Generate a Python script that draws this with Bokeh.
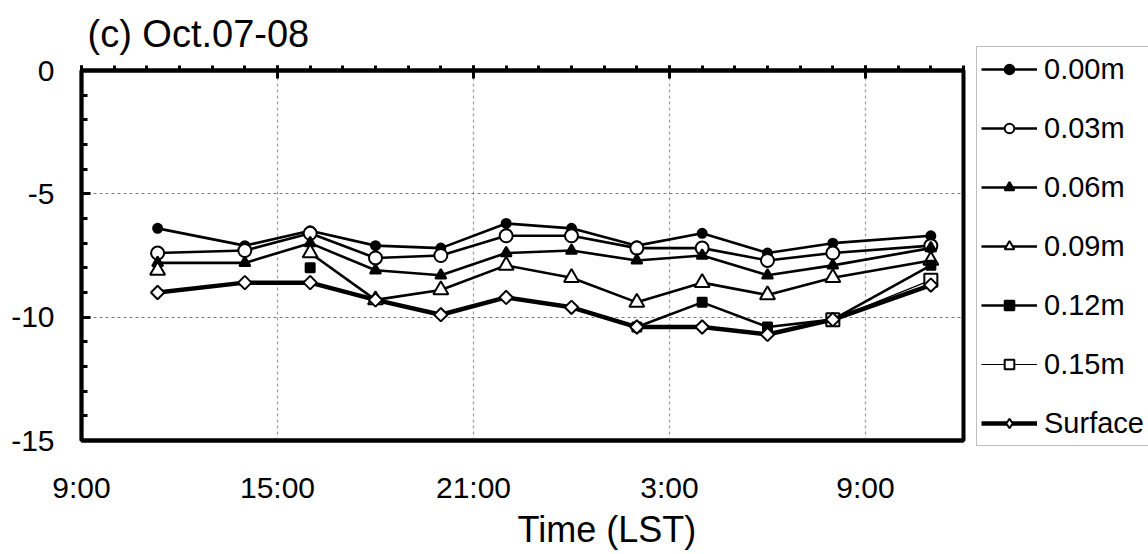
import math
from bokeh.plotting import figure
from bokeh.models import (LinearAxis, FixedTicker, Legend, LegendItem, Title,
                          Range1d, ColumnDataSource)
from bokeh.embed import file_html
from bokeh.resources import INLINE

nan = float("nan")

# time in hours counted from 0:00 of Oct.07 (24 -> 0:00 of Oct.08)
times = [11.33, 14, 16, 18, 20, 22, 24, 26, 28, 30, 32, 35]
d_000 = [-6.4, -7.1, -6.5, -7.1, -7.2, -6.2, -6.4, -7.1, -6.6, -7.4, -7.0, -6.7]
d_003 = [-7.4, -7.3, -6.6, -7.6, -7.5, -6.7, -6.7, -7.2, -7.2, -7.7, -7.4, -7.1]
d_006 = [-7.8, -7.8, -7.0, -8.1, -8.3, -7.4, -7.3, -7.7, -7.5, -8.3, -7.9, -7.2]
d_009 = [-8.1, nan, -7.4, -9.3, -8.9, -7.9, -8.4, -9.4, -8.6, -9.1, -8.4, -7.7]
d_012 = [nan, nan, -8.0, nan, nan, nan, nan, -10.4, -9.4, -10.4, -10.1, -7.9]
d_015 = [nan, nan, nan, nan, nan, nan, nan, nan, nan, nan, -10.1, -8.5]
surface = [-9.0, -8.6, -8.6, -9.3, -9.9, -9.2, -9.6, -10.4, -10.4, -10.7, -10.1, -8.7]

series_names = ["0.00m", "0.03m", "0.06m", "0.09m", "0.12m", "0.15m", "Surface"]

x_ticks = [9, 15, 21, 27, 33]
x_tick_labels = ["9:00", "15:00", "21:00", "3:00", "9:00"]
x_minor = list(range(9, 37))
y_ticks = [0, -5, -10, -15]
y_tick_labels = ["0", "-5", "-10", "-15"]
y_minor = list(range(-15, 1))

FONT = "Liberation Sans"

p = figure(frame_width=882, frame_height=370, output_backend="svg",
           toolbar_location=None,
           x_range=Range1d(9, 36), y_range=Range1d(-15, 0),
           min_border_left=81, min_border_right=185, min_border_top=70,
           min_border_bottom=114, background_fill_color="white",
           border_fill_color="white")
p.outline_line_color = "black"
p.outline_line_width = 4

p.title.text = "(c) Oct.07-08"
p.title.text_font = FONT
p.title.text_font_size = "38px"
p.title.text_font_style = "normal"
p.title.text_color = "black"
p.title.align = "left"
p.title.offset = 6
p.title.standoff = 21

# bottom axis: tick labels only
xa = p.xaxis[0]
xa.ticker = FixedTicker(ticks=x_ticks)
xa.major_label_overrides = {t: l for t, l in zip(x_ticks, x_tick_labels)}
xa.major_tick_in = 0
xa.major_tick_out = 0
xa.minor_tick_in = 0
xa.minor_tick_out = 0
xa.axis_line_width = 4
xa.major_label_standoff = 30
xa.major_label_text_font = FONT
xa.major_label_text_font_size = "30px"
xa.major_label_text_color = "black"

# x axis title, placed below the tick labels
xtitle = Title(text="Time (LST)", align="left", offset=436, standoff=0,
               text_font=FONT, text_font_size="36px", text_font_style="normal",
               text_color="black")
p.add_layout(xtitle, "below")

# top axis: ticks only
ta = LinearAxis(ticker=FixedTicker(ticks=x_ticks, minor_ticks=x_minor))
ta.major_label_overrides = {t: "" for t in x_ticks}
ta.major_label_text_font_size = "1px"
ta.axis_line_width = 4
ta.major_tick_in = 8
ta.major_tick_out = 5
ta.minor_tick_in = 0
ta.minor_tick_out = 5
ta.major_tick_line_width = 3
ta.minor_tick_line_width = 3
p.add_layout(ta, "above")

ya = p.yaxis[0]
ya.ticker = FixedTicker(ticks=y_ticks, minor_ticks=y_minor)
ya.major_label_overrides = {t: l for t, l in zip(y_ticks, y_tick_labels)}
ya.axis_line_width = 3.5
ya.major_tick_in = 9
ya.major_tick_out = 0
ya.minor_tick_in = 6
ya.minor_tick_out = 0
ya.major_tick_line_width = 3
ya.minor_tick_line_width = 3
ya.major_label_standoff = 27
ya.major_label_text_font = FONT
ya.major_label_text_font_size = "30px"
ya.major_label_text_color = "black"

p.xgrid.ticker = FixedTicker(ticks=x_ticks)
p.ygrid.ticker = FixedTicker(ticks=y_ticks)
p.xgrid.grid_line_color = "#9a9a9a"
p.xgrid.grid_line_dash = "3 3"
p.xgrid.grid_line_width = 1.2
p.ygrid.grid_line_color = "#7a7a7a"
p.ygrid.grid_line_dash = "3 3"
p.ygrid.grid_line_width = 1.2

styles = [
    dict(data=d_000, marker="circle", size=9, fill="black", lw=2.6, angle=0),
    dict(data=d_003, marker="circle", size=13, fill="white", lw=2.6, angle=0),
    dict(data=d_006, marker="triangle", size=11, fill="black", lw=2.6, angle=0),
    dict(data=d_009, marker="triangle", size=15, fill="white", lw=2.6, angle=0),
    dict(data=d_012, marker="square", size=9, fill="black", lw=2.6, angle=0),
    dict(data=d_015, marker="square", size=13, fill="white", lw=1.2, angle=0),
    dict(data=surface, marker="square", size=9.5, fill="white", lw=4.5, angle=math.pi / 4),
]

items = []
for name, st in zip(series_names, styles):
    src = ColumnDataSource(dict(x=times, y=st["data"]))
    lr = p.line("x", "y", source=src, line_color="black", line_width=st["lw"])
    sr = p.scatter("x", "y", source=src, marker=st["marker"], size=st["size"],
                   angle=st["angle"], fill_color=st["fill"], line_color="black",
                   line_width=2)
    if st["angle"]:
        # legend swatch: a diamond (the legend draws markers unrotated)
        sr = p.scatter(x=[nan], y=[nan], marker="diamond", fill_color="white",
                       line_color="black", line_width=2)
    items.append(LegendItem(label=name, renderers=[lr, sr]))

legend = Legend(items=items, location=(13, -6))
legend.border_line_color = "#808080"
legend.border_line_width = 1
legend.background_fill_color = "white"
legend.background_fill_alpha = 1
legend.label_text_font = FONT
legend.label_text_font_size = "29px"
legend.label_text_color = "black"
legend.glyph_width = 56
legend.glyph_height = 24
legend.label_height = 36
legend.label_standoff = 7
legend.padding = 4
legend.spacing = 23
legend.margin = 0
p.add_layout(legend, "right")

open("out.html", "w").write(file_html(p, INLINE))
